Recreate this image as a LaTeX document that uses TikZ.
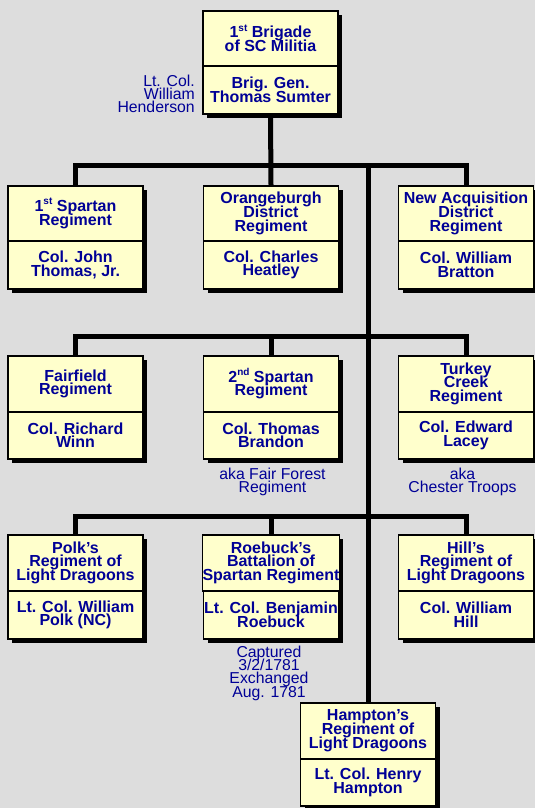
\documentclass[tikz,border=0pt]{standalone}
\usepackage{fontspec}
\setmainfont{Liberation Sans}
\usetikzlibrary{shadows}
\definecolor{bgc}{RGB}{221,221,221}
\definecolor{boxfill}{RGB}{255,255,204}
\definecolor{navy}{RGB}{0,0,150}
\newcommand\ordsup[1]{\raisebox{0.42em}{\fontsize{10}{10}\selectfont #1}}
\newcommand\orgbox[7]{%
  \node[partbox, minimum height={#4-#3}, anchor=north] (#1a) at (#2,#3) {#6};
  \node[partbox, minimum height={#5-#4}, anchor=north] (#1b) at (#2,#4) {#7};
}
\tikzset{
  partbox/.style={draw=black, line width=1.6pt, fill=boxfill, minimum width=135pt,
    inner sep=0pt, align=center, text=navy,
    font={\bfseries\fontsize{16}{13.7}\selectfont\lineskiplimit=-8pt},
    drop shadow={shadow xshift=4pt, shadow yshift=-4pt, opacity=1, fill=black}},
  note/.style={inner sep=0pt, text=navy,
    font={\fontsize{15.8}{13.3}\selectfont\lineskiplimit=-8pt}},
  conn/.style={draw=black, line width=5pt, line join=miter}
}
\begin{document}
\begin{tikzpicture}[x=1pt, y=-1pt]
\fill[bgc] (0,0) rectangle (535,808);
\useasboundingbox (0,0) rectangle (535,808);

% coordinates of buses
\coordinate (bus1) at (271,165);
\coordinate (bus2) at (271,336);
\coordinate (bus3) at (271,516);
\coordinate (trunk) at (368,165);

% boxes
\orgbox{top}{270.5}{10}{65}{113}{1\ordsup{st} Brigade\\of SC Militia}{Brig. Gen.\\Thomas Sumter}

\orgbox{ra}{75.5}{185}{240}{288}{1\ordsup{st} Spartan\\Regiment}{Col. John\\Thomas, Jr.}
\orgbox{rb}{271}{185}{240}{288}{Orangeburgh\\District\\Regiment}{Col. Charles\\Heatley}
\orgbox{rc}{466}{185}{240}{288}{New Acquisition\\District\\Regiment}{Col. William\\Bratton}

\orgbox{sa}{75.5}{355}{411}{458}{Fairfield\\Regiment}{Col. Richard\\Winn}
\orgbox{sb}{271}{355}{411}{458}{2\ordsup{nd} Spartan\\Regiment}{Col. Thomas\\Brandon}
\orgbox{sc}{466}{355}{411}{458}{Turkey\\Creek\\Regiment}{Col. Edward\\Lacey}

\orgbox{ta}{75.5}{534}{590}{638}{Polk’s\\Regiment of\\Light Dragoons}{Lt. Col. William\\Polk (NC)}
\orgbox{tb}{271}{534}{590}{638}{Roebuck’s\\Battalion of\\Spartan Regiment}{Lt. Col. Benjamin\\Roebuck}
\orgbox{tc}{466}{534}{590}{638}{Hill’s\\Regiment of\\Light Dragoons}{Col. William\\Hill}

\orgbox{ha}{368}{702}{758}{805}{Hampton’s\\Regiment of\\Light Dragoons}{Lt. Col. Henry\\Hampton}

% connectors
\draw[conn] (topb.south) -- (rba.north);
\draw[conn] (raa.north) |- (bus1) -| (rca.north);
\draw[conn] (trunk) -- (haa.north);
\draw[conn] (saa.north) |- (bus2) -| (sca.north);
\draw[conn] (bus2) -- (sba.north);
\draw[conn] (taa.north) |- (bus3) -| (tca.north);
\draw[conn] (bus3) -- (tba.north);

% notes
\node[note, align=right, anchor=east] (henderson) at (195,94) {Lt. Col.\\William\\Henderson};
\node[note, align=center] (fairforest) at (272.5,482) {aka Fair Forest\\Regiment};
\node[note, align=center] (chester) at (462.5,482) {aka\\Chester Troops};
\node[note, align=center] (captured) at (269,673) {Captured\\3/2/1781\\Exchanged\\Aug. 1781};
\end{tikzpicture}
\end{document}
